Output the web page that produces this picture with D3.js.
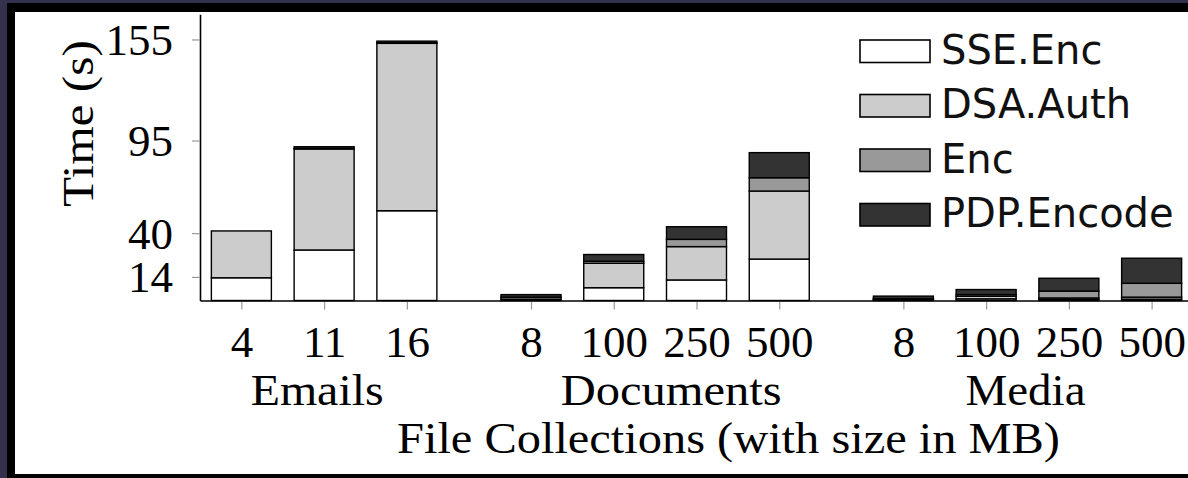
<!DOCTYPE html>
<html>
<head>
<meta charset="utf-8">
<script src="https://cdn.jsdelivr.net/npm/d3@7"></script>
<style>
  html, body { margin: 0; padding: 0; background: #34314e; overflow: hidden; }
  svg { display: block; }
</style>
</head>
<body>
<script>

// Chart data
const collections = ["Emails", "Emails", "Emails",
                     "Documents", "Documents", "Documents", "Documents",
                     "Media", "Media", "Media", "Media"];
const sizeLabels = ["4", "11", "16", "8", "100", "250", "500", "8", "100", "250", "500"];
const groupNames = ["Emails", "Documents", "Media"];
const seriesNames = ["SSE.Enc", "DSA.Auth", "Enc", "PDP.Encode"];
const sseEnc    = [13.5, 30.0, 53.3, 0.5,  7.6, 12.2, 24.6, 0.3, 1.0, 0.6, 0.8];
const dsaAuth   = [27.8, 60.0, 99.4, 1.2, 14.5, 19.8, 40.4, 0.3, 1.5, 0.9, 1.2];
const encTime   = [ 0.0,  0.3,  0.3, 0.3,  1.2,  4.3,  7.9, 0.5, 1.0, 4.1, 8.2];
const pdpEncode = [ 0.0,  1.0,  1.0, 1.5,  4.0,  7.5, 14.9, 1.5, 3.0, 7.6, 14.9];
const yTicks = [14, 40, 95, 155];

const colors = ["#ffffff", "#cccccc", "#999999", "#333333"];

const width = 1188;
const height = 478;
const serif = "'Liberation Serif', 'Times New Roman', serif";
const sans = "'DejaVu Sans', sans-serif";

// slot position of each bar: half a slot of space between collections
const slots = [];
let k = 0;
collections.forEach((c, i) => {
    if (i > 0 && c !== collections[i - 1]) k += 0.5;
    slots.push(k);
    k++;
});

const data = sizeLabels.map((s, i) => ({
    id: i,
    slot: slots[i],
    "SSE.Enc": sseEnc[i],
    "DSA.Auth": dsaAuth[i],
    "Enc": encTime[i],
    "PDP.Encode": pdpEncode[i]
}));

const x = d3.scaleLinear([-0.5, d3.max(slots) + 0.5], [200, 1193]);
const y = d3.scaleLinear([0, 170], [300.5, 14.2]);
const barWidth = 60;

const series = d3.stack().keys(seriesNames)(data);

const svg = d3.select("body").append("svg")
    .attr("width", width)
    .attr("height", height)
    .attr("viewBox", [0, 0, width, height]);

// window frame
svg.append("rect").attr("x", 7).attr("y", 3).attr("width", width).attr("height", height).attr("fill", "#000");
svg.append("rect").attr("x", 15).attr("y", 12).attr("width", width).attr("height", 462).attr("fill", "#fff");

// bars
svg.append("g")
    .selectAll("g")
    .data(series)
    .join("g")
    .attr("fill", (d, i) => colors[i])
    .selectAll("rect")
    .data(d => d)
    .join("rect")
    .attr("x", d => x(d.data.slot) - barWidth / 2)
    .attr("width", barWidth)
    .attr("y", d => y(d[1]))
    .attr("height", d => y(d[0]) - y(d[1]))
    .attr("stroke", "#000")
    .attr("stroke-width", 1.4);

// y axis
svg.append("g")
    .attr("transform", `translate(${x.range()[0]},0)`)
    .call(d3.axisLeft(y).tickValues(yTicks).tickSize(8).tickSizeOuter(0).tickPadding(19))
    .call(g => g.select(".domain").attr("stroke", "#000").attr("stroke-width", 1.6))
    .call(g => g.selectAll(".tick line").attr("stroke", "#9a9a9a").attr("stroke-width", 1.2))
    .call(g => g.selectAll(".tick text")
        .attr("font-family", serif)
        .attr("font-size", 45)
        .attr("fill", "#000")
        .attr("dy", 15));

// x axis
svg.append("g")
    .attr("transform", `translate(0,${y(0)})`)
    .call(d3.axisBottom(x).tickValues(slots).tickFormat((d, i) => sizeLabels[i])
        .tickSize(8).tickSizeOuter(0).tickPadding(16.5))
    .call(g => g.select(".domain").attr("stroke", "#000").attr("stroke-width", 1.6))
    .call(g => g.selectAll(".tick line").attr("stroke", "#9a9a9a").attr("stroke-width", 1.2)
        .attr("y1", 1.5).attr("y2", 9))
    .call(g => g.selectAll(".tick text")
        .attr("font-family", serif)
        .attr("font-size", 45)
        .attr("fill", "#000"));

// collection names under the sizes
const groupNudge = { Emails: -7, Documents: 16, Media: -2 };
const groupWidth = { Emails: 133, Documents: 221, Media: 120 };
svg.append("g")
    .selectAll("text")
    .data(groupNames)
    .join("text")
    .attr("x", g => x(d3.mean(slots.filter((s, i) => collections[i] === g))) + groupNudge[g])
    .attr("y", 405)
    .attr("text-anchor", "middle")
    .attr("font-family", serif)
    .attr("font-size", 45)
    .attr("textLength", g => groupWidth[g])
    .attr("lengthAdjust", "spacingAndGlyphs")
    .text(g => g);

// axis titles
svg.append("text")
    .attr("x", 728.5)
    .attr("y", 453)
    .attr("text-anchor", "middle")
    .attr("font-family", serif)
    .attr("font-size", 45)
    .attr("textLength", 663)
    .attr("lengthAdjust", "spacingAndGlyphs")
    .text("File Collections (with size in MB)");

svg.append("text")
    .attr("transform", "translate(93,123.5) rotate(-90)")
    .attr("text-anchor", "middle")
    .attr("font-family", serif)
    .attr("font-size", 45)
    .attr("textLength", 167)
    .attr("lengthAdjust", "spacingAndGlyphs")
    .text("Time (s)");

// legend
const legend = svg.append("g")
    .selectAll("g")
    .data(seriesNames)
    .join("g")
    .attr("transform", (d, i) => `translate(860,${40 + i * 54.5})`);

legend.append("rect")
    .attr("width", 70)
    .attr("height", 22.5)
    .attr("fill", (d, i) => colors[i])
    .attr("stroke", "#000")
    .attr("stroke-width", 1.6);

legend.append("text")
    .attr("x", 81)
    .attr("y", 23.5)
    .attr("font-family", sans)
    .attr("font-size", 40)
    .attr("fill", "#111")
    .text(d => d);

</script>
</body>
</html>
